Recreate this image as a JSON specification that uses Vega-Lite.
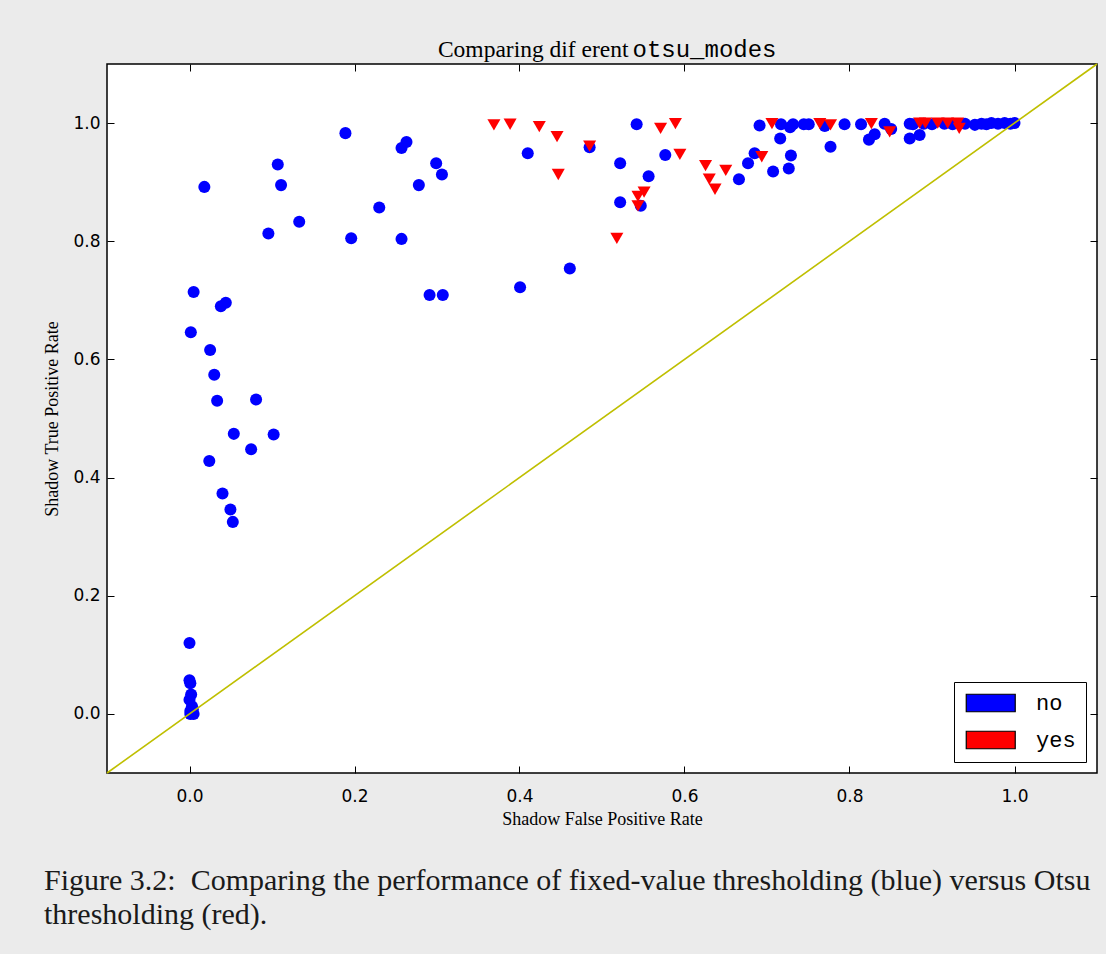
{
  "$schema": "https://vega.github.io/schema/vega-lite/v6.json",
  "width": 990,
  "height": 709,
  "autosize": {"type": "none"},
  "padding": {"left": 107, "top": 64, "right": 9, "bottom": 181},
  "background": "#ebebeb",
  "title": {
    "text": ["Figure 3.2:\u00a0 Comparing the performance of fixed-value thresholding (blue) versus Otsu", "thresholding (red)."],
    "orient": "bottom",
    "anchor": "start",
    "align": "left",
    "font": "Liberation Serif",
    "fontSize": 30,
    "fontWeight": "normal",
    "color": "#1a1a1a",
    "lineHeight": 34,
    "dx": 1,
    "offset": 38
  },
  "config": {
    "view": {"fill": "white", "stroke": "black", "strokeWidth": 1.5},
    "axis": {"grid": false, "domain": false, "tickColor": "black", "tickWidth": 1, "labelColor": "black", "titleColor": "black"}
  },
  "datasets": {
    "rates": [
      {"fpr": 0.0, "tpr": 0.12, "mode": "no"},
      {"fpr": 0.0, "tpr": 0.057, "mode": "no"},
      {"fpr": 0.001, "tpr": 0.052, "mode": "no"},
      {"fpr": 0.002, "tpr": 0.033, "mode": "no"},
      {"fpr": 0.0, "tpr": 0.024, "mode": "no"},
      {"fpr": 0.003, "tpr": 0.013, "mode": "no"},
      {"fpr": 0.001, "tpr": 0.005, "mode": "no"},
      {"fpr": 0.004, "tpr": 0.008, "mode": "no"},
      {"fpr": 0.005, "tpr": 0.0, "mode": "no"},
      {"fpr": 0.001, "tpr": 0.0, "mode": "no"},
      {"fpr": 0.024, "tpr": 0.428, "mode": "no"},
      {"fpr": 0.04, "tpr": 0.373, "mode": "no"},
      {"fpr": 0.0496, "tpr": 0.346, "mode": "no"},
      {"fpr": 0.0525, "tpr": 0.325, "mode": "no"},
      {"fpr": 0.0537, "tpr": 0.474, "mode": "no"},
      {"fpr": 0.0747, "tpr": 0.448, "mode": "no"},
      {"fpr": 0.102, "tpr": 0.473, "mode": "no"},
      {"fpr": 0.0807, "tpr": 0.532, "mode": "no"},
      {"fpr": 0.0335, "tpr": 0.53, "mode": "no"},
      {"fpr": 0.03, "tpr": 0.574, "mode": "no"},
      {"fpr": 0.025, "tpr": 0.616, "mode": "no"},
      {"fpr": 0.0016, "tpr": 0.646, "mode": "no"},
      {"fpr": 0.038, "tpr": 0.69, "mode": "no"},
      {"fpr": 0.044, "tpr": 0.696, "mode": "no"},
      {"fpr": 0.005, "tpr": 0.714, "mode": "no"},
      {"fpr": 0.018, "tpr": 0.892, "mode": "no"},
      {"fpr": 0.0956, "tpr": 0.813, "mode": "no"},
      {"fpr": 0.107, "tpr": 0.93, "mode": "no"},
      {"fpr": 0.111, "tpr": 0.895, "mode": "no"},
      {"fpr": 0.133, "tpr": 0.833, "mode": "no"},
      {"fpr": 0.189, "tpr": 0.983, "mode": "no"},
      {"fpr": 0.196, "tpr": 0.805, "mode": "no"},
      {"fpr": 0.23, "tpr": 0.857, "mode": "no"},
      {"fpr": 0.257, "tpr": 0.804, "mode": "no"},
      {"fpr": 0.257, "tpr": 0.958, "mode": "no"},
      {"fpr": 0.263, "tpr": 0.968, "mode": "no"},
      {"fpr": 0.278, "tpr": 0.895, "mode": "no"},
      {"fpr": 0.299, "tpr": 0.932, "mode": "no"},
      {"fpr": 0.306, "tpr": 0.913, "mode": "no"},
      {"fpr": 0.291, "tpr": 0.709, "mode": "no"},
      {"fpr": 0.307, "tpr": 0.709, "mode": "no"},
      {"fpr": 0.4007, "tpr": 0.722, "mode": "no"},
      {"fpr": 0.41, "tpr": 0.949, "mode": "no"},
      {"fpr": 0.461, "tpr": 0.754, "mode": "no"},
      {"fpr": 0.485, "tpr": 0.959, "mode": "no"},
      {"fpr": 0.522, "tpr": 0.866, "mode": "no"},
      {"fpr": 0.522, "tpr": 0.932, "mode": "no"},
      {"fpr": 0.542, "tpr": 0.998, "mode": "no"},
      {"fpr": 0.547, "tpr": 0.86, "mode": "no"},
      {"fpr": 0.5565, "tpr": 0.91, "mode": "no"},
      {"fpr": 0.5767, "tpr": 0.946, "mode": "no"},
      {"fpr": 0.666, "tpr": 0.905, "mode": "no"},
      {"fpr": 0.677, "tpr": 0.932, "mode": "no"},
      {"fpr": 0.685, "tpr": 0.949, "mode": "no"},
      {"fpr": 0.691, "tpr": 0.996, "mode": "no"},
      {"fpr": 0.7074, "tpr": 0.918, "mode": "no"},
      {"fpr": 0.716, "tpr": 0.974, "mode": "no"},
      {"fpr": 0.717, "tpr": 0.998, "mode": "no"},
      {"fpr": 0.7264, "tpr": 0.923, "mode": "no"},
      {"fpr": 0.729, "tpr": 0.945, "mode": "no"},
      {"fpr": 0.728, "tpr": 0.993, "mode": "no"},
      {"fpr": 0.7316, "tpr": 0.998, "mode": "no"},
      {"fpr": 0.7446, "tpr": 0.998, "mode": "no"},
      {"fpr": 0.7506, "tpr": 0.998, "mode": "no"},
      {"fpr": 0.77, "tpr": 0.995, "mode": "no"},
      {"fpr": 0.777, "tpr": 0.96, "mode": "no"},
      {"fpr": 0.794, "tpr": 0.998, "mode": "no"},
      {"fpr": 0.814, "tpr": 0.998, "mode": "no"},
      {"fpr": 0.8236, "tpr": 0.972, "mode": "no"},
      {"fpr": 0.8305, "tpr": 0.981, "mode": "no"},
      {"fpr": 0.8426, "tpr": 0.999, "mode": "no"},
      {"fpr": 0.8505, "tpr": 0.99, "mode": "no"},
      {"fpr": 0.873, "tpr": 0.999, "mode": "no"},
      {"fpr": 0.873, "tpr": 0.974, "mode": "no"},
      {"fpr": 0.885, "tpr": 0.98, "mode": "no"},
      {"fpr": 0.877, "tpr": 0.998, "mode": "no"},
      {"fpr": 0.89, "tpr": 0.999, "mode": "no"},
      {"fpr": 0.9, "tpr": 0.998, "mode": "no"},
      {"fpr": 0.915, "tpr": 0.999, "mode": "no"},
      {"fpr": 0.925, "tpr": 0.998, "mode": "no"},
      {"fpr": 0.94, "tpr": 0.999, "mode": "no"},
      {"fpr": 0.952, "tpr": 0.997, "mode": "no"},
      {"fpr": 0.96, "tpr": 0.999, "mode": "no"},
      {"fpr": 0.966, "tpr": 0.998, "mode": "no"},
      {"fpr": 0.972, "tpr": 1.0, "mode": "no"},
      {"fpr": 0.98, "tpr": 0.999, "mode": "no"},
      {"fpr": 0.988, "tpr": 1.0, "mode": "no"},
      {"fpr": 0.995, "tpr": 0.999, "mode": "no"},
      {"fpr": 1.0, "tpr": 1.0, "mode": "no"},
      {"fpr": 0.369, "tpr": 0.997, "mode": "yes"},
      {"fpr": 0.3886, "tpr": 0.998, "mode": "yes"},
      {"fpr": 0.424, "tpr": 0.994, "mode": "yes"},
      {"fpr": 0.4455, "tpr": 0.977, "mode": "yes"},
      {"fpr": 0.447, "tpr": 0.913, "mode": "yes"},
      {"fpr": 0.485, "tpr": 0.961, "mode": "yes"},
      {"fpr": 0.518, "tpr": 0.805, "mode": "yes"},
      {"fpr": 0.5436, "tpr": 0.876, "mode": "yes"},
      {"fpr": 0.551, "tpr": 0.883, "mode": "yes"},
      {"fpr": 0.5436, "tpr": 0.86, "mode": "yes"},
      {"fpr": 0.571, "tpr": 0.991, "mode": "yes"},
      {"fpr": 0.589, "tpr": 0.999, "mode": "yes"},
      {"fpr": 0.5944, "tpr": 0.947, "mode": "yes"},
      {"fpr": 0.6255, "tpr": 0.928, "mode": "yes"},
      {"fpr": 0.63, "tpr": 0.905, "mode": "yes"},
      {"fpr": 0.637, "tpr": 0.888, "mode": "yes"},
      {"fpr": 0.65, "tpr": 0.92, "mode": "yes"},
      {"fpr": 0.6937, "tpr": 0.943, "mode": "yes"},
      {"fpr": 0.706, "tpr": 0.999, "mode": "yes"},
      {"fpr": 0.764, "tpr": 0.999, "mode": "yes"},
      {"fpr": 0.777, "tpr": 0.997, "mode": "yes"},
      {"fpr": 0.8265, "tpr": 0.999, "mode": "yes"},
      {"fpr": 0.8487, "tpr": 0.985, "mode": "yes"},
      {"fpr": 0.885, "tpr": 1.0, "mode": "yes"},
      {"fpr": 0.892, "tpr": 1.0, "mode": "yes"},
      {"fpr": 0.907, "tpr": 1.0, "mode": "yes"},
      {"fpr": 0.919, "tpr": 1.0, "mode": "yes"},
      {"fpr": 0.931, "tpr": 1.0, "mode": "yes"},
      {"fpr": 0.933, "tpr": 0.991, "mode": "yes"}
    ],
    "diagonal": [
      {"fpr": -0.1, "tpr": -0.1},
      {"fpr": 1.1, "tpr": 1.1}
    ]
  },
  "resolve": {"axis": {"x": "independent", "y": "independent"}},
  "layer": [
    {
      "data": {"name": "rates"},
      "transform": [{"filter": "datum.mode === 'no'"}],
      "mark": {"type": "point", "shape": "circle", "filled": true, "size": 145, "opacity": 1},
      "encoding": {
        "x": {
          "field": "fpr", "type": "quantitative",
          "scale": {"domain": [-0.1, 1.1], "nice": false, "zero": false},
          "axis": {
            "orient": "bottom", "values": [0, 0.2, 0.4, 0.6, 0.8, 1.0], "format": ".1f",
            "tickSize": -7, "labelPadding": 22,
            "labelFont": "DejaVu Sans", "labelFontSize": 17,
            "title": "Shadow False Positive Rate", "titleFont": "Liberation Serif", "titleFontSize": 18,
            "titleFontWeight": "normal", "titleX": 495, "titleY": 46, "titleBaseline": "middle"
          }
        },
        "y": {
          "field": "tpr", "type": "quantitative",
          "scale": {"domain": [-0.1, 1.1], "nice": false, "zero": false},
          "axis": {
            "orient": "left", "values": [0, 0.2, 0.4, 0.6, 0.8, 1.0], "format": ".1f",
            "tickSize": -7, "labelPadding": 14,
            "labelFont": "DejaVu Sans", "labelFontSize": 17,
            "title": "Shadow True Positive Rate", "titleFont": "Liberation Serif", "titleFontSize": 18,
            "titleFontWeight": "normal", "titleAngle": -90, "titleX": -55, "titleY": 354.5,
            "titleAlign": "center", "titleBaseline": "middle"
          }
        },
        "color": {
          "field": "mode", "type": "nominal",
          "scale": {"domain": ["no", "yes"], "range": ["#0000ff", "#ff0000"]},
          "legend": {
            "title": null, "orient": "bottom-right", "offset": 11,
            "fillColor": "white", "strokeColor": "black", "padding": 10,
            "symbolType": "M-1,-1H4.6V1H-1Z", "symbolSize": 306,
            "symbolOpacity": 1, "symbolStrokeColor": "black", "symbolStrokeWidth": 1.2,
            "labelFont": "Liberation Mono", "labelFontSize": 22, "labelColor": "black",
            "labelOffset": 50, "rowPadding": 13,
            "encode": {"symbols": {"update": {"stroke": {"value": "black"}, "strokeWidth": {"value": 1.2}}}}
          }
        }
      }
    },
    {
      "data": {"name": "rates"},
      "transform": [{"filter": "datum.mode === 'yes'"}],
      "mark": {"type": "point", "shape": "triangle-down", "filled": true, "size": 170, "opacity": 1},
      "encoding": {
        "x": {
          "field": "fpr", "type": "quantitative",
          "scale": {"domain": [-0.1, 1.1], "nice": false, "zero": false},
          "axis": {
            "orient": "top", "values": [0, 0.2, 0.4, 0.6, 0.8, 1.0], "labels": false, "tickSize": -7,
            "title": "Comparing dif erent", "titleFont": "Liberation Serif", "titleFontSize": 23.5,
            "titleFontWeight": "normal", "titleAlign": "right", "titleX": 521, "titleY": -8,
            "titleBaseline": "alphabetic"
          }
        },
        "y": {
          "field": "tpr", "type": "quantitative",
          "scale": {"domain": [-0.1, 1.1], "nice": false, "zero": false},
          "axis": {"orient": "right", "values": [0, 0.2, 0.4, 0.6, 0.8, 1.0], "labels": false, "tickSize": -7, "title": null}
        },
        "color": {"field": "mode", "type": "nominal", "scale": {"domain": ["no", "yes"], "range": ["#0000ff", "#ff0000"]}}
      }
    },
    {
      "data": {"name": "diagonal"},
      "mark": {"type": "line", "color": "#bfbf00", "strokeWidth": 1.6},
      "encoding": {
        "x": {
          "field": "fpr", "type": "quantitative",
          "scale": {"domain": [-0.1, 1.1], "nice": false, "zero": false},
          "axis": {
            "orient": "top", "labels": false, "ticks": false,
            "title": "otsu_modes", "titleFont": "Liberation Mono", "titleFontSize": 24,
            "titleFontWeight": "normal", "titleAlign": "left", "titleX": 525, "titleY": -8,
            "titleBaseline": "alphabetic"
          }
        },
        "y": {
          "field": "tpr", "type": "quantitative",
          "scale": {"domain": [-0.1, 1.1], "nice": false, "zero": false},
          "axis": null
        }
      }
    }
  ]
}
